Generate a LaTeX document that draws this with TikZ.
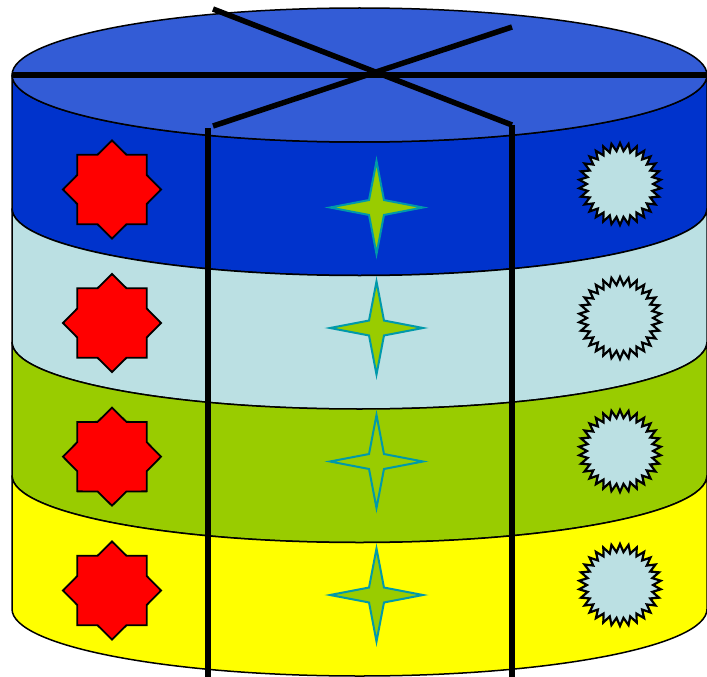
\documentclass[tikz,border=0pt]{standalone}
\usepackage{xcolor}
\usepackage{tikz}
\usetikzlibrary{shapes.geometric}

\definecolor{lidblue}{RGB}{51,92,214}
\definecolor{deepblue}{RGB}{0,51,204}
\definecolor{paleblue}{RGB}{187,224,227}
\definecolor{limegreen}{RGB}{153,204,0}
\definecolor{sunyellow}{RGB}{255,255,0}
\definecolor{tealline}{RGB}{0,153,170}

\begin{document}
\begin{tikzpicture}[
    x=1pt, y=1pt,
    band/.style={draw=black, line width=1.5pt},
    bar/.style={draw=black, line width=5.5pt},
    octagram/.style={star, star points=8, star point ratio=1.3, minimum size=98pt,
                     inner sep=0pt, draw=black, line width=1.8pt, fill=red},
    sparkle/.style={star, star points=4, star point ratio=4.4, minimum size=93pt,
                    inner sep=0pt, draw=tealline, line width=2pt},
    burst/.style={star, star points=30, star point ratio=1.24, minimum size=82pt,
                  inner sep=0pt, draw=black, line width=2.2pt, fill=paleblue}
]
\useasboundingbox (0,0) rectangle (707,-677);

% Bands of the cylinder, top to bottom
\path[band, fill=deepblue] (12,-75) -- (12,-208.5)
    arc[start angle=180, end angle=360, x radius=347.5, y radius=67] -- (707,-75)
    arc[start angle=0, end angle=-180, x radius=347.5, y radius=67] -- cycle;
\path[band, fill=paleblue] (12,-208.5) -- (12,-342)
    arc[start angle=180, end angle=360, x radius=347.5, y radius=67] -- (707,-208.5)
    arc[start angle=0, end angle=-180, x radius=347.5, y radius=67] -- cycle;
\path[band, fill=limegreen] (12,-342) -- (12,-475.5)
    arc[start angle=180, end angle=360, x radius=347.5, y radius=67] -- (707,-342)
    arc[start angle=0, end angle=-180, x radius=347.5, y radius=67] -- cycle;
\path[band, fill=sunyellow] (12,-475.5) -- (12,-609)
    arc[start angle=180, end angle=360, x radius=347.5, y radius=67] -- (707,-475.5)
    arc[start angle=0, end angle=-180, x radius=347.5, y radius=67] -- cycle;

% Lid
\path[band, fill=lidblue] (359.5,-75) ellipse [x radius=347.5, y radius=67];

% Left column: red stars
\node[octagram] (oct1) at (112,-189.5) {};
\node[octagram] (oct2) at (112,-323) {};
\node[octagram] (oct3) at (112,-456.7) {};
\node[octagram] (oct4) at (112,-590.5) {};

% Middle column: four-point stars
\node[sparkle, fill=limegreen] (spark1) at (376.5,-207.5) {};
\node[sparkle, fill=limegreen] (spark2) at (376.5,-328) {};
\node[sparkle] (spark3) at (376.5,-461.5) {};
\node[sparkle, fill=limegreen] (spark4) at (376.5,-595) {};

% Right column: seals
\node[burst] (burst1) at (620,-184) {};
\node[burst] (burst2) at (620,-318) {};
\node[burst] (burst3) at (620,-451) {};
\node[burst] (burst4) at (620,-585) {};

% Cutting lines
\coordinate (rimW) at (12,-75);
\coordinate (rimE) at (707,-75);
\coordinate (backW) at (213,-9);
\coordinate (backE) at (512,-27);
\coordinate (frontW) at (213,-126);
\coordinate (frontE) at (512,-125);
\coordinate (cutW) at (208,-128);
\coordinate (cutE) at (512,-125);
\coordinate (baseW) at (208,-677);
\coordinate (baseE) at (512,-677);

\draw[bar] (rimW) -- (rimE);
\draw[bar] (backW) -- (frontE);
\draw[bar] (frontW) -- (backE);
\draw[bar] (cutW) -- (baseW);
\draw[bar] (cutE) -- (baseE);

\end{tikzpicture}
\end{document}
